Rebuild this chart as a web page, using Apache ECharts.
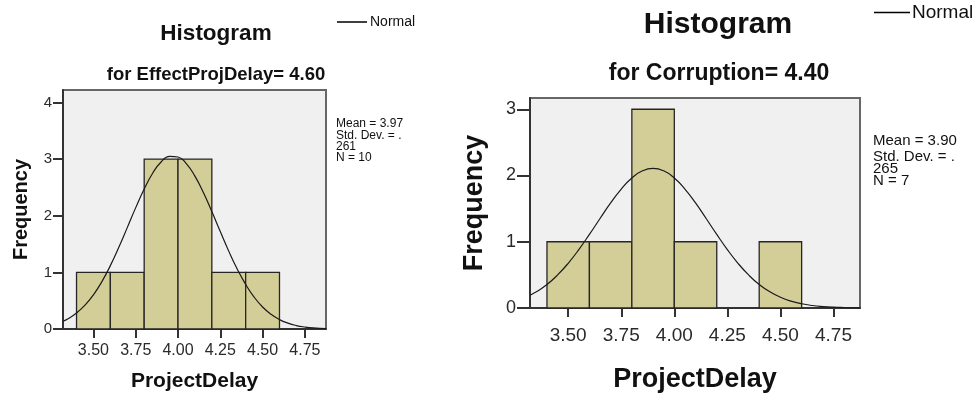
<!DOCTYPE html>
<html>
<head>
<meta charset="utf-8">
<script src="https://cdn.jsdelivr.net/npm/echarts@6/dist/echarts.min.js"></script>
<style>
  html, body { margin: 0; padding: 0; background: #fff; }
  #chart { width: 977px; height: 400px; }
</style>
</head>
<body>
<div id="chart"></div>
<script>
// bin edges shared by both histograms
const binEdges = [3.4, 3.6, 3.8, 4.0, 4.2, 4.4, 4.6];
const leftCounts = [1, 1, 3, 3, 1, 1];   // EffectProjDelay = 4.60
const rightCounts = [1, 1, 3, 1, 0, 1];  // Corruption = 4.40

const xTicks = [3.50, 3.75, 4.00, 4.25, 4.50, 4.75];
const leftYTicks = [0, 1, 2, 3, 4];
const rightYTicks = [0, 1, 2, 3];

// normal curve
const curveX = [3.32, 3.35, 3.40, 3.45, 3.50, 3.55, 3.60, 3.65, 3.70, 3.75, 3.80, 3.85, 3.90, 3.95,
  4.00, 4.05, 4.10, 4.15, 4.20, 4.25, 4.30, 4.35, 4.40, 4.45, 4.50, 4.55, 4.60, 4.65, 4.70, 4.75, 4.80, 4.875];
const leftCurve = [0.138, 0.182, 0.282, 0.420, 0.604, 0.837, 1.119, 1.442, 1.790, 2.143, 2.473, 2.750, 2.949, 3.048,
  3.037, 2.917, 2.700, 2.410, 2.073, 1.720, 1.375, 1.059, 0.787, 0.563, 0.389, 0.259, 0.166, 0.103, 0.061, 0.035, 0.019, 0.008];
const rightCurve = [0.192, 0.245, 0.355, 0.499, 0.675, 0.881, 1.111, 1.351, 1.586, 1.796, 1.963, 2.071, 2.108, 2.071,
  1.963, 1.796, 1.586, 1.351, 1.111, 0.881, 0.675, 0.499, 0.355, 0.245, 0.163, 0.104, 0.064, 0.038, 0.022, 0.012, 0.007, 0.002];

const leftStats = ['Mean = 3.97', 'Std. Dev. = .', '261', 'N = 10'];
const rightStats = ['Mean = 3.90', 'Std. Dev. = .', '265', 'N = 7'];

const FONT = '"Liberation Sans", Arial, sans-serif';

function binData(counts) {
  return counts.map((c, i) => [binEdges[i], binEdges[i + 1], c]);
}

function renderBin(params, api) {
  const n = api.value(2);
  if (!n) return;
  const p0 = api.coord([api.value(0), 0]);
  const p1 = api.coord([api.value(1), n]);
  return {
    type: 'rect',
    shape: { x: p0[0], y: p1[1], width: p1[0] - p0[0], height: p0[1] - p1[1] },
    style: { fill: '#d3ce97', stroke: '#262626', lineWidth: 1.3 }
  };
}

function xAxisFor(idx, fontSize, tickLen, margin, nameSize, nameGap) {
  return {
    type: 'value', gridIndex: idx, min: 3.32, max: 4.875,
    name: 'ProjectDelay', nameLocation: 'middle', nameGap: nameGap,
    nameTextStyle: { fontFamily: FONT, fontWeight: 'bold', fontSize: nameSize, color: '#111' },
    splitLine: { show: false },
    axisLine: { onZero: false, lineStyle: { color: '#333', width: 2 } },
    axisTick: { customValues: xTicks, length: tickLen, lineStyle: { color: '#333', width: 2 } },
    axisLabel: {
      customValues: xTicks, margin: margin, fontFamily: FONT, fontSize: fontSize, color: '#2a2a2a',
      formatter: v => v.toFixed(2)
    }
  };
}

function yAxisFor(idx, max, ticks, fontSize, tickLen, margin, nameSize, nameGap) {
  return {
    type: 'value', gridIndex: idx, min: 0, max: max,
    name: 'Frequency', nameLocation: 'middle', nameGap: nameGap,
    nameTextStyle: { fontFamily: FONT, fontWeight: 'bold', fontSize: nameSize, color: '#111' },
    splitLine: { show: false },
    axisLine: { show: true, lineStyle: { color: '#333', width: 2 } },
    axisTick: { customValues: ticks, length: tickLen, lineStyle: { color: '#333', width: 2 } },
    axisLabel: { customValues: ticks, margin: margin, fontFamily: FONT, fontSize: fontSize, color: '#2a2a2a' }
  };
}

function statsText(lines, x, ys, size) {
  return lines.map((t, i) => ({
    type: 'text', x: x, y: ys[i],
    style: { text: t, fontFamily: FONT, fontSize: size, fill: '#111', verticalAlign: 'middle' }
  }));
}

function titleText(t, cx, cy, size) {
  return {
    type: 'text', x: cx, y: cy,
    style: { text: t, fontFamily: FONT, fontWeight: 'bold', fontSize: size, fill: '#111', align: 'center', verticalAlign: 'middle' }
  };
}

const chart = echarts.init(document.getElementById('chart'));

chart.setOption({
  animation: false,
  backgroundColor: '#fff',
  grid: [
    { left: 63, top: 90, width: 263, height: 239, show: true, backgroundColor: '#f0f0f0', borderColor: '#666', borderWidth: 2 },
    { left: 530, top: 98, width: 330, height: 210, show: true, backgroundColor: '#f0f0f0', borderColor: '#666', borderWidth: 2 }
  ],
  legend: [
    {
      data: ['Normal'], left: 337, top: 15, padding: 0, itemWidth: 30, itemHeight: 1.5, itemGap: 3,
      icon: 'rect', itemStyle: { color: '#000' },
      textStyle: { fontFamily: FONT, fontSize: 14, color: '#111', padding: [0, 0, 0, -2] }
    },
    {
      data: ['Normal'], left: 874, top: 3, padding: 0, itemWidth: 36, itemHeight: 1.5, itemGap: 3,
      icon: 'rect', itemStyle: { color: '#000' },
      textStyle: { fontFamily: FONT, fontSize: 19, color: '#111', padding: [0, 0, 0, -3] }
    }
  ],
  xAxis: [
    xAxisFor(0, 16, 9, 14, 21, 42),
    xAxisFor(1, 19, 9, 18, 27, 58)
  ],
  yAxis: [
    yAxisFor(0, 4.22, leftYTicks, 15, 10, 11, 20, 32),
    yAxisFor(1, 3.17, rightYTicks, 18, 13, 14, 27, 42)
  ],
  graphic: [
    titleText('Histogram', 216, 33.5, 22.5),
    titleText('for EffectProjDelay= 4.60', 216, 74.5, 18.5),
    titleText('Histogram', 718, 25, 30),
    titleText('for Corruption= 4.40', 719, 74, 23),
    ...statsText(leftStats, 336, [124, 136, 147, 158], 12),
    ...statsText(rightStats, 873, [141, 157, 168.5, 181], 15)
  ],
  series: [
    {
      type: 'custom', name: 'bins', xAxisIndex: 0, yAxisIndex: 0,
      renderItem: renderBin, encode: { x: [0, 1], y: 2 }, data: binData(leftCounts)
    },
    {
      type: 'line', name: 'Normal', xAxisIndex: 0, yAxisIndex: 0, smooth: true, showSymbol: false,
      lineStyle: { color: '#1a1a1a', width: 1.2 }, itemStyle: { color: '#1a1a1a' },
      data: curveX.map((x, i) => [x, leftCurve[i]])
    },
    {
      type: 'custom', name: 'bins', xAxisIndex: 1, yAxisIndex: 1,
      renderItem: renderBin, encode: { x: [0, 1], y: 2 }, data: binData(rightCounts)
    },
    {
      type: 'line', name: 'Normal', xAxisIndex: 1, yAxisIndex: 1, smooth: true, showSymbol: false,
      lineStyle: { color: '#1a1a1a', width: 1.2 }, itemStyle: { color: '#1a1a1a' },
      data: curveX.map((x, i) => [x, rightCurve[i]])
    }
  ]
});
</script>
</body>
</html>
